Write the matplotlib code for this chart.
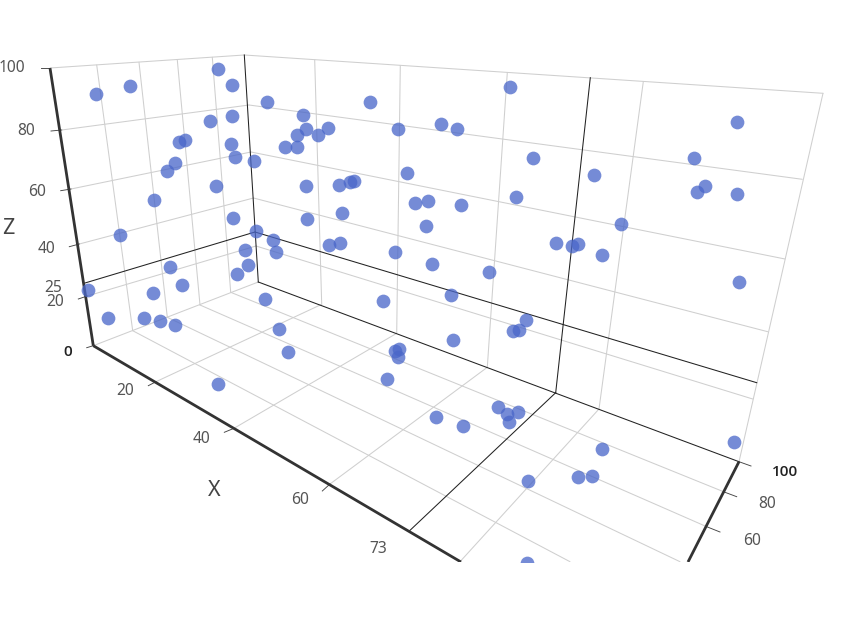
# -*- coding: utf-8 -*-
import matplotlib
matplotlib.use("Agg")
import matplotlib.pyplot as plt

plt.rcParams["font.family"] = ["Noto Sans", "DejaVu Sans"]

# points as read on the picture (the 3D view is flat here, in pixels)
point_x = [96.3, 130.3, 218.3, 232, 267.3, 232.3, 210, 179, 185, 231.3, 235, 254, 175, 166.7, 216, 153.7,
           233, 120.3, 256.3, 272.7, 245.3, 276, 247.7, 169.7, 236.7, 182.3, 87.7, 153, 265, 108, 144.3,
           160.3, 175, 279, 287.7, 218,
           369.7, 302.7, 306, 328.3, 318, 297.3, 284.7, 296.7, 398.3, 440.7, 457.3, 510, 533, 407, 306, 339,
           350.3, 354, 415, 428, 460.7, 515.7, 341.7, 307.3, 425.7, 328.7, 339.7, 394.7, 431.7, 488.7, 555.7,
           572.3, 451, 382.7, 525.7, 513.3, 519.3, 452.7, 395, 399.3, 397.7,
           737, 694.3, 594, 705, 697, 737.3, 621.3, 577.7, 601.7, 739,
           436.3, 463.3, 497.7, 506.7, 518.3, 509.3, 602.3, 528, 578.3, 592, 734, 526.7, 387.3]
point_y = [93.7, 86.3, 68.7, 84.7, 102.3, 116.3, 121, 142, 140, 144, 157.3, 161.3, 162.7, 171.3, 185.7, 200.3,
           218, 234.7, 231.3, 240.3, 250, 252, 265.3, 267.3, 273.7, 285.3, 290.3, 293.3, 299.3, 317.7, 318,
           321, 325.3, 328.7, 351.7, 383.7,
           102.3, 115, 129, 127.7, 134.7, 134.7, 147.3, 147.3, 128.7, 123.7, 129.3, 87, 158.3, 173.3, 185.7, 185,
           182.3, 180.7, 202.7, 200.7, 205.3, 197.3, 212.7, 219.3, 225.7, 244.7, 242.7, 252.3, 264, 271.7, 243,
           246, 295.3, 300.7, 320, 330.7, 329.7, 340, 350.7, 349.3, 356.7,
           122, 158.3, 174.7, 186.3, 191.7, 194, 224, 244, 254.7, 281.7,
           416.7, 425.7, 407, 414, 411.7, 422.3, 449.3, 481, 476.7, 475.7, 441.7, 563.3, 379]

# box edges and grid lines (x0, y0, x1, y1)
grid_lines = [
    (50, 68, 244.3, 55), (244.3, 55, 823, 93.3), (823, 93.3, 739, 461.7),
    (96.7, 65, 132.7, 330.7), (139, 62.3, 167.3, 317.3), (177.3, 60, 200, 305), (212.3, 57.3, 230.7, 292.3),
    (61.7, 130, 249, 105), (71, 189, 251, 152), (79.3, 244, 253.5, 198), (87.3, 296, 256, 246),
    (93.3, 345.7, 258.3, 282),
    (249, 105, 802.3, 179.3), (251, 152, 785, 259), (253.5, 198, 767.7, 331.7), (256, 246, 752.7, 399),
    (314.7, 60, 321.7, 304.3), (400.3, 65.7, 396.7, 333.3), (507.3, 72.7, 487.3, 367.3), (643.3, 81.7, 599, 409),
    (321.7, 304.3, 156, 381.7), (396.7, 333.3, 234, 428.3), (487.3, 367.3, 330, 484), (599, 409, 460, 561.7),
    (230.7, 292.3, 725, 492.3), (200, 305, 706.7, 526.7), (167.3, 317.3, 680, 561.7), (132.7, 330.7, 570, 561.7),
]
pointer_lines = [
    (84, 283.3, 255, 232), (255, 232, 756.7, 382.7),
    (244.3, 55, 258.3, 282), (258.3, 282, 739, 461.7),
    (590.3, 77.7, 555.7, 392.7), (555.7, 392.7, 409.3, 531),
]
axis_lines = [
    (50, 68, 93.3, 345.7), (93.3, 345.7, 461, 562), (739, 461.7, 688, 562),
]
tick_lines = [
    (41, 68, 50, 68), (51, 131, 61.7, 130), (60.7, 190.7, 71, 189), (69.3, 246.7, 79.3, 244),
    (78.3, 299, 87.3, 296), (86.7, 347.7, 93.3, 345.7),
    (148.3, 385.7, 156, 381.7), (224.3, 432.3, 234, 428.3), (322.3, 491, 330, 484),
    (739, 461.7, 751, 466), (725, 492.3, 736.7, 496.7), (706.7, 526.7, 720, 532),
]

# labels (text, x, y, bold pointer value or not)
tick_labels = [
    ("100", 11.5, 67.7, False), ("80", 26, 130.7, False), ("60", 36.7, 192, False), ("40", 46.3, 249, False),
    ("25", 53.3, 288, False), ("20", 55, 302, False), ("0", 68, 352, True),
    ("20", 125.3, 390.7, False), ("40", 201.7, 438.7, False), ("60", 299.7, 500, False), ("73", 378, 549.3, False),
    ("100", 785, 472.3, True), ("80", 767, 504, False), ("60", 751.7, 540.7, False),
]
axis_names = [("Z", 8, 229), ("X", 214.3, 490)]

fig = plt.figure(figsize=(8.67, 6.25), dpi=100)
# canvas stops at y=562, what is under is left white
ax = fig.add_axes([0, 63 / 625, 1, 562 / 625])
ax.set_xlim(0, 867)
ax.set_ylim(562, 0)
ax.axis("off")

for x0, y0, x1, y1 in grid_lines:
    ax.plot([x0, x1], [y0, y1], color="#cfcfcf", lw=0.75, zorder=1, solid_capstyle="round")
for x0, y0, x1, y1 in pointer_lines:
    ax.plot([x0, x1], [y0, y1], color="#222222", lw=0.75, zorder=2)
for x0, y0, x1, y1 in tick_lines:
    ax.plot([x0, x1], [y0, y1], color="#444444", lw=0.65, zorder=2)
for x0, y0, x1, y1 in axis_lines:
    ax.plot([x0, x1], [y0, y1], color="#333333", lw=2.0, zorder=3, solid_capstyle="butt")

ax.scatter(point_x, point_y, s=98, color="#4a67c9", alpha=0.76, linewidths=0, zorder=4)

for txt, x, y, bold in tick_labels:
    if bold:
        # Noto Sans has no semibold here, Open Sans does
        ax.text(x, y, txt, ha="center", va="center", fontsize=11, family="Open Sans",
                color="#222222", fontweight="semibold", zorder=5)
    else:
        ax.text(x, y, txt, ha="center", va="center", fontsize=11.2, color="#555555", zorder=5)
for txt, x, y in axis_names:
    ax.text(x, y, txt, ha="center", va="center", fontsize=15.5, color="#444444", zorder=5)

fig.savefig("out.png", dpi=100, facecolor="white")
